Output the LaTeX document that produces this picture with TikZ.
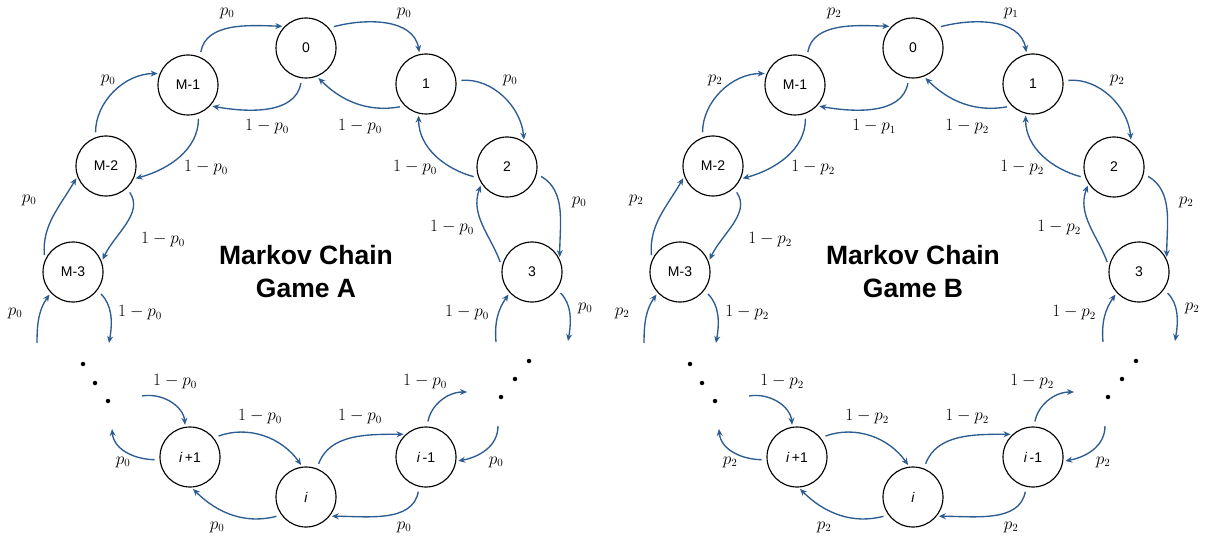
\documentclass[tikz,border=0pt]{standalone}
\usepackage{fontspec}
\setsansfont{Liberation Sans}
\usetikzlibrary{arrows.meta}
\definecolor{arrowblue}{RGB}{44,92,146}
\tikzset{
  state/.style={circle,draw=black,line width=1.15pt,minimum size=60pt,inner sep=0pt,
                font=\sffamily\fontsize{14}{16}\selectfont},
  link/.style={draw=arrowblue,line width=1.35pt,-{Stealth[length=7pt,width=6pt]},shorten >=2pt},
  fromnode/.style={shorten <=5pt},
  lab/.style={font=\fontsize{16}{19}\selectfont,inner sep=0pt},
  chaintitle/.style={font=\sffamily\bfseries\fontsize{26.5}{33}\selectfont,align=center},
  ellipsisdot/.style={circle,fill=black,inner sep=0pt,minimum size=4.5pt}
}
% #1 = game letter (also node prefix), #2 = horizontal offset,
% #3 = win probability of the ordinary states, #4 = win probability in state 0
\newcommand\markovchain[4]{%
\begin{scope}[xshift=#2]
  % states
  \node[state] (#1n0) at (306,491) {0};
  \node[state] (#1n1) at (426,455) {1};
  \node[state] (#1n2) at (507,372) {2};
  \node[state] (#1n3) at (532,267) {3};
  \node[state] (#1m1) at (188,454) {M-1};
  \node[state] (#1m2) at (106,373) {M-2};
  \node[state] (#1m3) at (73,267) {M-3};
  \node[state] (#1ip) at (190,82) {\textit{i}\,+1};
  \node[state] (#1ii) at (306,42) {\textit{i}};
  \node[state] (#1im) at (426,82) {\textit{i}\,-1};
  % ellipsis dots
  \node[ellipsisdot] (#1dl1) at (83,175) {};
  \node[ellipsisdot] (#1dl2) at (95,156) {};
  \node[ellipsisdot] (#1dl3) at (108,138) {};
  \node[ellipsisdot] (#1dr1) at (529,178) {};
  \node[ellipsisdot] (#1dr2) at (515,160) {};
  \node[ellipsisdot] (#1dr3) at (501,142) {};
  % loose ends of the arrows next to the dots
  \coordinate (#1lu) at (37,196);
  \coordinate (#1ld) at (109,196);
  \coordinate (#1li) at (142,143);
  \coordinate (#1lo) at (112,110);
  \coordinate (#1ro) at (467,147);
  \coordinate (#1ri) at (498,113);
  \coordinate (#1rd) at (568,198);
  \coordinate (#1ru) at (496,197);
  % title
  \node[chaintitle] (#1title) at (306,267) {Markov Chain\\Game #1};
  % outer arrows: one step forward
  \draw[link,fromnode] (#1m1.67) to[out=80,in=178] (#1n0.135);
  \draw[link,fromnode] (#1n0.41) to[out=15,in=100] (#1n1.102);
  \draw[link,fromnode] (#1n1.6) to[out=5,in=95] (#1n2.56);
  \draw[link,fromnode] (#1n2.-13) to[out=-30,in=90] (#1n3.25);
  \draw[link,fromnode,shorten >=0pt] (#1n3.-35) to[out=-45,in=80] (#1rd);
  \draw[link] (#1ri) to[out=-90,in=10] (#1im.-8);
  \draw[link,fromnode] (#1im.-103) to[out=-100,in=0] (#1ii.-39);
  \draw[link,fromnode] (#1ii.216) to[out=195,in=-45] (#1ip.-87);
  \draw[link,fromnode,shorten >=0pt] (#1ip.185) to[out=180,in=-85] (#1lo);
  \draw[link] (#1lu) to[out=90,in=-125] (#1m3.223);
  \draw[link,fromnode] (#1m3.157) to[out=95,in=-120] (#1m2.200);
  \draw[link,fromnode] (#1m2.110) to[out=90,in=180] (#1m1.158);
  % inner arrows: one step back
  \draw[link,fromnode] (#1n0.-98) to[out=-100,in=-10] (#1m1.-43);
  \draw[link,fromnode] (#1n1.-134) to[out=190,in=-45] (#1n0.-69);
  \draw[link,fromnode] (#1n2.201) to[out=165,in=-90] (#1n1.-104);
  \draw[link,fromnode] (#1n3.170) to[out=110,in=-110] (#1n2.213);
  \draw[link] (#1ru) to[out=95,in=-125] (#1n3.223);
  \draw[link,fromnode,shorten >=0pt] (#1im.88) to[out=80,in=180] (#1ro);
  \draw[link,fromnode] (#1ii.69) to[out=70,in=180] (#1im.132);
  \draw[link,fromnode] (#1ip.39) to[out=20,in=125] (#1ii.97);
  \draw[link] (#1li) to[out=10,in=95] (#1ip.99);
  \draw[link,fromnode,shorten >=0pt] (#1m3.-37) to[out=-45,in=80] (#1ld);
  \draw[link,fromnode] (#1m2.-47) to[out=-55,in=65] (#1m3.20);
  \draw[link,fromnode] (#1m1.-70) to[out=-90,in=15] (#1m2.-25);
  % transition probabilities
  \node[lab] at (227,526) {$#3$};
  \node[lab] at (404,526) {$#4$};
  \node[lab] at (510,459) {$#3$};
  \node[lab] at (579,337) {$#3$};
  \node[lab] at (585,231) {$#3$};
  \node[lab] at (496,77) {$#3$};
  \node[lab] at (404,12) {$#3$};
  \node[lab] at (217,12) {$#3$};
  \node[lab] at (123,77) {$#3$};
  \node[lab] at (15,226) {$#3$};
  \node[lab] at (29,339) {$#3$};
  \node[lab] at (108,459) {$#3$};
  \node[lab] at (267,412) {$1-#4$};
  \node[lab] at (360,412) {$1-#3$};
  \node[lab] at (415,371) {$1-#3$};
  \node[lab] at (452,311) {$1-#3$};
  \node[lab] at (467,226) {$1-#3$};
  \node[lab] at (425,157) {$1-#3$};
  \node[lab] at (360,122) {$1-#3$};
  \node[lab] at (260,122) {$1-#3$};
  \node[lab] at (175,157) {$1-#3$};
  \node[lab] at (140,226) {$1-#3$};
  \node[lab] at (163,299) {$1-#3$};
  \node[lab] at (206,371) {$1-#3$};
\end{scope}}

\begin{document}
\begin{tikzpicture}[x=1pt,y=1pt]
  \useasboundingbox (0,0) rectangle (1207,539);
  \markovchain{A}{0}{p_0}{p_0}
  \markovchain{B}{607}{p_2}{p_1}
\end{tikzpicture}
\end{document}
